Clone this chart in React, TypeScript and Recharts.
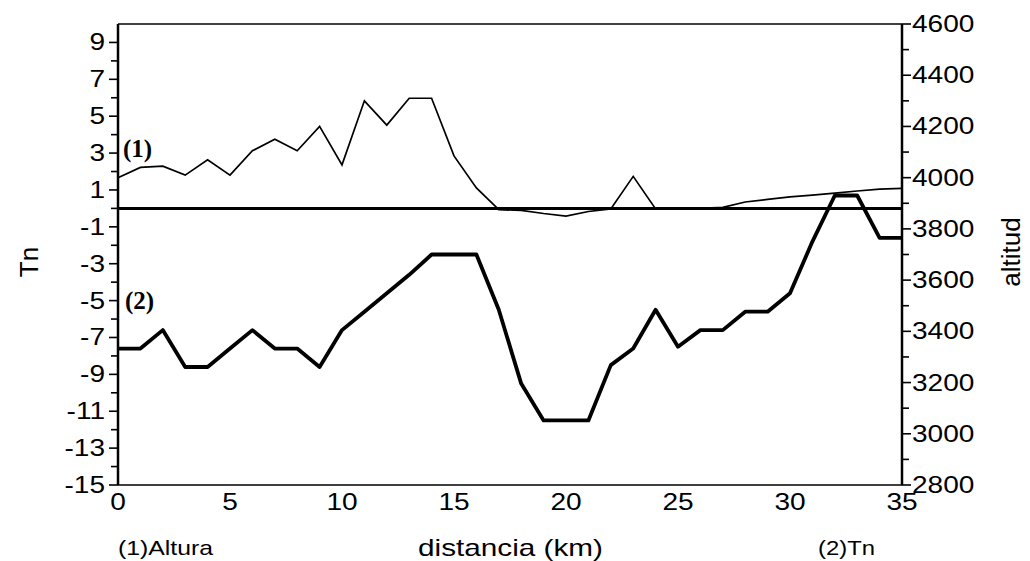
import React from "react";
import { LineChart, Line, XAxis, YAxis, ReferenceLine } from "recharts";

// distancia (km)
const distancia = [
  0, 1, 2, 3, 4, 5, 6, 7, 8, 9, 10, 11, 12, 13, 14, 15, 16, 17,
  18, 19, 20, 21, 22, 23, 24, 25, 26, 27, 28, 29, 30, 31, 32, 33, 34, 35,
];
// (2) Tn, left axis
const tn = [
  -7.6, -7.6, -6.6, -8.6, -8.6, -7.6, -6.6, -7.6, -7.6, -8.6, -6.6, -5.6,
  -4.6, -3.6, -2.5, -2.5, -2.5, -5.5, -9.5, -11.5, -11.5, -11.5, -8.5, -7.6,
  -5.5, -7.5, -6.6, -6.6, -5.6, -5.6, -4.6, -1.8, 0.7, 0.7, -1.6, -1.6,
];
// (1) Altura, right axis
const altura = [
  4000, 4040, 4045, 4010, 4070, 4010, 4105, 4150, 4105, 4200, 4050, 4300,
  4205, 4310, 4310, 4085, 3960, 3875, 3872, 3860, 3850, 3868, 3878, 4005,
  3878, 3878, 3880, 3884, 3905, 3915, 3925, 3932, 3940, 3948, 3955, 3958,
];

const xTicks = [0, 5, 10, 15, 20, 25, 30, 35];
const tnTicks = [
  -15, -14, -13, -12, -11, -10, -9, -8, -7, -6, -5, -4, -3, -2, -1, 0,
  1, 2, 3, 4, 5, 6, 7, 8, 9,
];
const tnLabels = [-15, -13, -11, -9, -7, -5, -3, -1, 1, 3, 5, 7, 9];
const altTicks = [
  2800, 2900, 3000, 3100, 3200, 3300, 3400, 3500, 3600, 3700, 3800, 3900,
  4000, 4100, 4200, 4300, 4400, 4500, 4600,
];
const altLabels = [2800, 3000, 3200, 3400, 3600, 3800, 4000, 4200, 4400, 4600];

const data = distancia.map((d, i) => ({ km: d, tn: tn[i], altura: altura[i] }));

const FONT = '"Liberation Sans", Arial, Helvetica, sans-serif';
const SERIF = '"Liberation Serif", "Times New Roman", serif';
const STRETCH = 1.22;

function Txt({ x, y, anchor, size, children }: any) {
  return (
    <text
      transform={`translate(${x},${y}) scale(${STRETCH},1)`}
      textAnchor={anchor}
      fontSize={size}
      fontFamily={FONT}
      fill="#000"
    >
      {children}
    </text>
  );
}

const LeftTick = ({ x, y, payload }: any) => {
  const v = payload.value;
  const major = tnLabels.includes(v);
  return (
    <g>
      <line x1={x - (major ? 9 : 7)} y1={y} x2={x} y2={y} stroke="#000" strokeWidth={1.6} />
      {major && (
        <Txt x={x - 13} y={y + 8} anchor="end" size={23}>
          {v}
        </Txt>
      )}
    </g>
  );
};

const RightTick = ({ x, y, payload }: any) => {
  const v = payload.value;
  const major = altLabels.includes(v);
  return (
    <g>
      <line x1={x} y1={y} x2={x + (major ? 9 : 7)} y2={y} stroke="#000" strokeWidth={1.6} />
      {major && (
        <Txt x={x + 10} y={y + 8} anchor="start" size={23}>
          {v}
        </Txt>
      )}
    </g>
  );
};

const BottomTick = ({ x, y, payload }: any) => (
  <Txt x={x} y={y + 25} anchor="middle" size={23}>
    {payload.value}
  </Txt>
);

export default function App() {
  return (
    <div style={{ position: "absolute", left: 0, top: 0, width: 1030, height: 561, background: "#fff" }}>
      <LineChart
        width={1030}
        height={561}
        data={data}
        margin={{ top: 24, right: 58, bottom: 46, left: 58 }}
      >
        <XAxis
          dataKey="km"
          type="number"
          domain={[0, 35]}
          ticks={xTicks}
          tick={<BottomTick />}
          tickLine={false}
          tickSize={0}
          tickMargin={0}
          height={30}
          axisLine={{ stroke: "#000", strokeWidth: 1.5 }}
        />
        <YAxis
          yAxisId="tn"
          domain={[-15, 10]}
          ticks={tnTicks}
          interval={0}
          tick={<LeftTick />}
          tickLine={false}
          tickSize={0}
          tickMargin={0}
          width={60}
          axisLine={{ stroke: "#000", strokeWidth: 2.5 }}
        />
        <YAxis
          yAxisId="alt"
          orientation="right"
          domain={[2800, 4600]}
          ticks={altTicks}
          interval={0}
          tick={<RightTick />}
          tickLine={false}
          tickSize={0}
          tickMargin={0}
          width={70}
          axisLine={{ stroke: "#000", strokeWidth: 2.5 }}
        />
        <ReferenceLine yAxisId="tn" y={10} stroke="#000" strokeWidth={1.5} />
        <ReferenceLine yAxisId="tn" y={0} stroke="#000" strokeWidth={3} />
        <Line
          yAxisId="alt"
          dataKey="altura"
          type="linear"
          stroke="#000"
          strokeWidth={1.7}
          dot={false}
          isAnimationActive={false}
        />
        <Line
          yAxisId="tn"
          dataKey="tn"
          type="linear"
          stroke="#000"
          strokeWidth={3.8}
          strokeLinejoin="round"
          dot={false}
          isAnimationActive={false}
        />
      </LineChart>
      <svg
        width={1030}
        height={561}
        style={{ position: "absolute", left: 0, top: 0, pointerEvents: "none" }}
      >
        <text transform="translate(38,262) rotate(-90)" textAnchor="middle" fontSize={26} fontFamily={FONT}>
          Tn
        </text>
        <text transform="translate(1020,252) rotate(-90)" textAnchor="middle" fontSize={26} fontFamily={FONT}>
          altitud
        </text>
        <text x={123} y={157} fontSize={25} fontFamily={SERIF} fontWeight="bold">
          (1)
        </text>
        <text x={125} y={309} fontSize={25} fontFamily={SERIF} fontWeight="bold">
          (2)
        </text>
        <text x={118} y={555} fontSize={21} fontFamily={FONT} textLength={95} lengthAdjust="spacingAndGlyphs">
          (1)Altura
        </text>
        <text x={418} y={556} fontSize={24} fontFamily={FONT} textLength={185} lengthAdjust="spacingAndGlyphs">
          distancia (km)
        </text>
        <text x={818} y={555} fontSize={21} fontFamily={FONT} textLength={57} lengthAdjust="spacingAndGlyphs">
          (2)Tn
        </text>
      </svg>
    </div>
  );
}
